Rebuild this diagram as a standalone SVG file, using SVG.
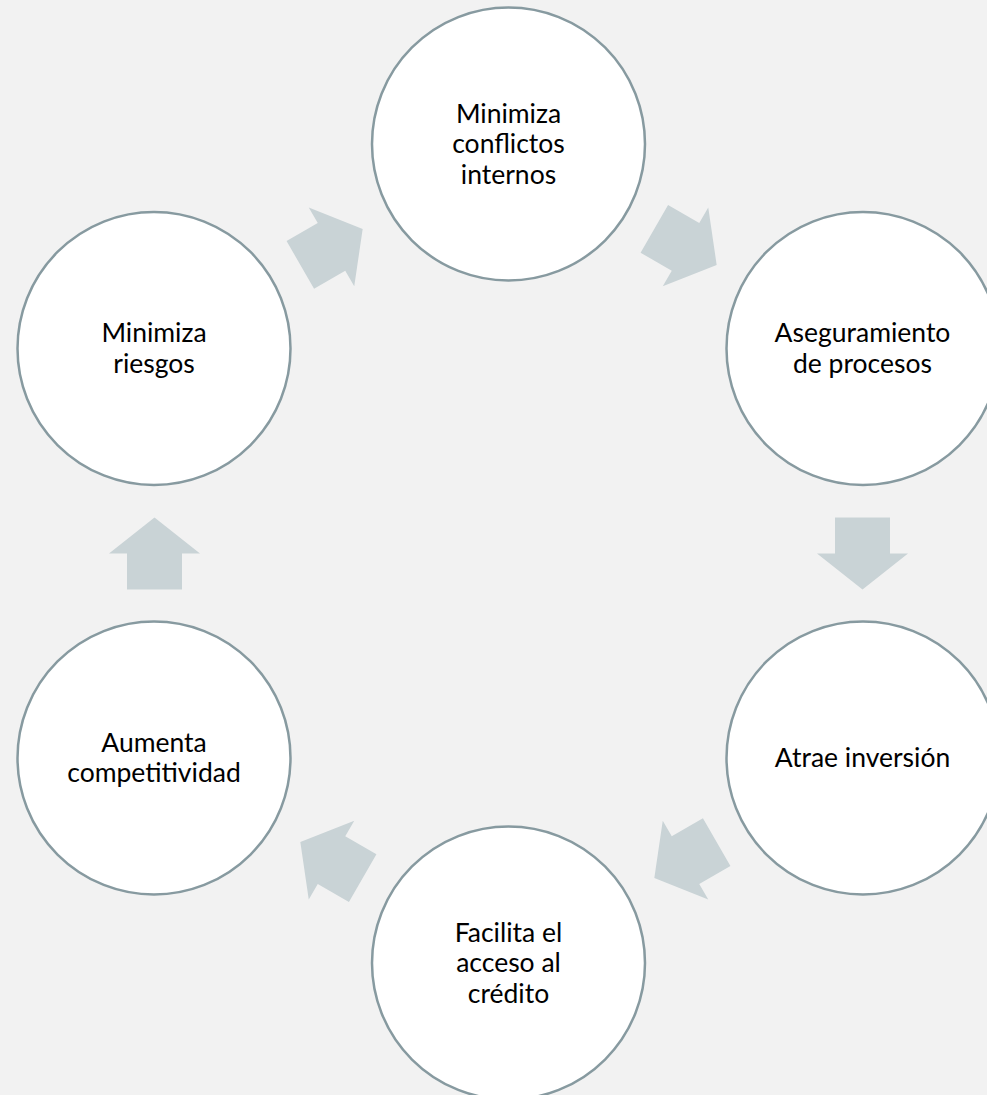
<svg xmlns="http://www.w3.org/2000/svg" width="987" height="1095" viewBox="0 0 987 1095">
<defs>
<style>
.node circle{fill:#ffffff;stroke:#879aa0;stroke-width:2.5}
.node text{font-family:Lato,"Open Sans","Liberation Sans",sans-serif;font-size:26.5px;fill:#000000;text-anchor:middle}
.arr{fill:#c9d3d6}
</style>
<path id="arrow" d="M-36,-27.5 L0,-27.5 L0,-45.5 L36,0 L0,45.5 L0,27.5 L-36,27.5 Z"/>
</defs>
<rect width="987" height="1095" fill="#f2f2f2"/>
<g id="connectors">
<use href="#arrow" class="arr" transform="translate(685.5,246.9) rotate(30)"/>
<use href="#arrow" class="arr" transform="translate(862.5,553.5) rotate(90)"/>
<use href="#arrow" class="arr" transform="translate(685.5,860.1) rotate(150)"/>
<use href="#arrow" class="arr" transform="translate(331.5,860.1) rotate(210)"/>
<use href="#arrow" class="arr" transform="translate(154.5,553.5) rotate(270)"/>
<use href="#arrow" class="arr" transform="translate(331.5,246.9) rotate(330)"/>
</g>
<g id="n1" class="node">
<circle cx="508.5" cy="144" r="136.5"/>
<text x="508.5" y="122.5">Minimiza</text>
<text x="508.5" y="153">conflictos</text>
<text x="508.5" y="183.5">internos</text>
</g>
<g id="n2" class="node">
<circle cx="863" cy="348.5" r="136.5"/>
<text x="862.5" y="342">Aseguramiento</text>
<text x="862.5" y="372.5">de procesos</text>
</g>
<g id="n3" class="node">
<circle cx="863" cy="758" r="136.5"/>
<text x="862.5" y="767">Atrae inversión</text>
</g>
<g id="n4" class="node">
<circle cx="508.5" cy="963" r="136.5"/>
<text x="508.5" y="941.5">Facilita el</text>
<text x="508.5" y="972">acceso al</text>
<text x="508.5" y="1002.5">crédito</text>
</g>
<g id="n5" class="node">
<circle cx="154" cy="758" r="136.5"/>
<text x="154" y="751.5">Aumenta</text>
<text x="154" y="782">competitividad</text>
</g>
<g id="n6" class="node">
<circle cx="154" cy="348.5" r="136.5"/>
<text x="154" y="342">Minimiza</text>
<text x="154" y="372.5">riesgos</text>
</g>
</svg>
